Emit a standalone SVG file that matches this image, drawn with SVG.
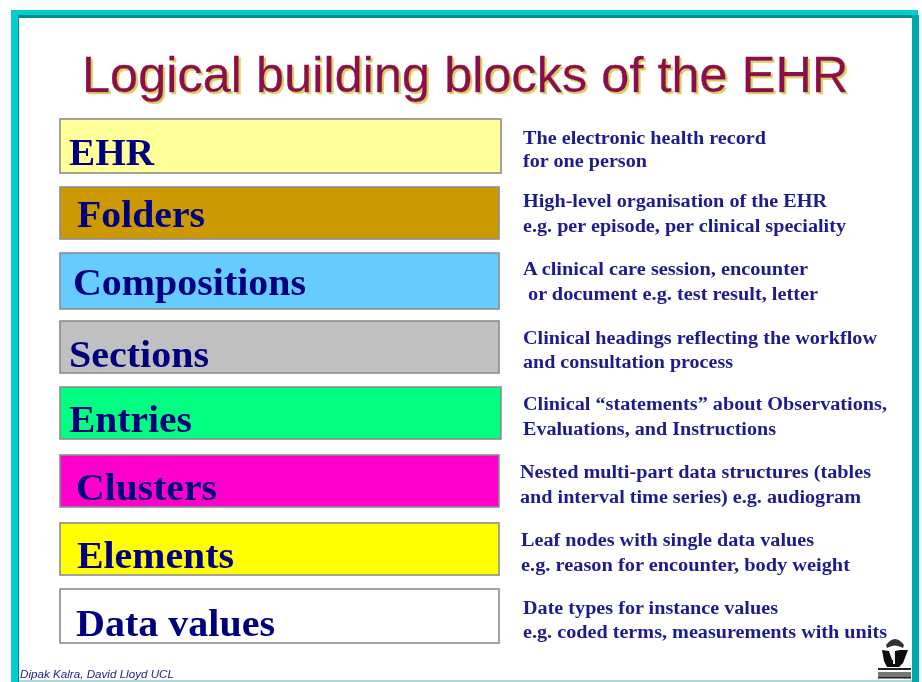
<svg xmlns="http://www.w3.org/2000/svg" width="922" height="682" viewBox="0 0 922 682">
<defs><filter id="soft" x="-5%" y="-20%" width="110%" height="140%"><feGaussianBlur stdDeviation="0.45"/></filter>
<filter id="shade" x="-5%" y="-20%" width="110%" height="140%"><feGaussianBlur in="SourceGraphic" stdDeviation="0.5" result="b"/><feOffset in="b" dx="2" dy="2" result="o"/><feFlood flood-color="#d8d060"/><feComposite in2="o" operator="in" result="s"/><feMerge><feMergeNode in="s"/><feMergeNode in="b"/></feMerge></filter></defs>
<style>
.box{stroke:#8c8c8c;stroke-width:1.600}
.lab{font-family:"Liberation Serif",serif;font-weight:bold;font-size:38px;fill:#00007f;filter:url(#soft)}
.desc{font-family:"Liberation Serif",serif;font-weight:bold;font-size:18.500px;fill:#1c1c8c;filter:url(#soft)}
.title{font-family:"Liberation Sans",sans-serif;font-size:50.500px;fill:#8c0a4a;stroke:#8c0a4a;stroke-width:.3;filter:url(#shade)}
</style>
<rect width="922" height="682" fill="#fff"/>
<g id="frame">
<path d="M11 682V10H918V18H19V682Z" fill="#00cfcf"/>
<path d="M18 682V15H918V18H19V682Z" fill="#008a8a"/>
<rect x="912" y="15" width="7" height="667" fill="#00a8a8"/>
<rect x="19" y="680" width="893" height="2" fill="#a8dcdc"/>
</g>
<g id="title">
<text class="title" x="82" y="92">Logical building blocks of the EHR</text>
</g>
<g id="ehr"><rect class="box" x="60" y="119" width="441" height="54" fill="#ffff99"/><text class="lab" x="69" y="165" textLength="85" lengthAdjust="spacingAndGlyphs">EHR</text><text class="desc" x="523" y="144" textLength="243" lengthAdjust="spacingAndGlyphs">The electronic health record</text><text class="desc" x="523" y="167" textLength="124" lengthAdjust="spacingAndGlyphs">for one person</text></g>
<g id="folders"><rect class="box" x="60" y="187" width="439" height="52" fill="#cc9900"/><text class="lab" x="77" y="227" textLength="128" lengthAdjust="spacingAndGlyphs">Folders</text><text class="desc" x="523" y="207" textLength="304" lengthAdjust="spacingAndGlyphs">High-level organisation of the EHR</text><text class="desc" x="523" y="232" textLength="323" lengthAdjust="spacingAndGlyphs">e.g. per episode, per clinical speciality</text></g>
<g id="compositions"><rect class="box" x="60" y="253" width="439" height="56" fill="#66ccff"/><text class="lab" x="73" y="295" textLength="233" lengthAdjust="spacingAndGlyphs">Compositions</text><text class="desc" x="523" y="275" textLength="285" lengthAdjust="spacingAndGlyphs">A clinical care session, encounter</text><text class="desc" x="528" y="300" textLength="290" lengthAdjust="spacingAndGlyphs">or document e.g. test result, letter</text></g>
<g id="sections"><rect class="box" x="60" y="321" width="439" height="52" fill="#c0c0c0"/><text class="lab" x="69" y="367" textLength="140" lengthAdjust="spacingAndGlyphs">Sections</text><text class="desc" x="523" y="344" textLength="354" lengthAdjust="spacingAndGlyphs">Clinical headings reflecting the workflow</text><text class="desc" x="523" y="368" textLength="210" lengthAdjust="spacingAndGlyphs">and consultation process</text></g>
<g id="entries"><rect class="box" x="60" y="387" width="441" height="52" fill="#00ff80"/><text class="lab" x="69" y="432" textLength="123" lengthAdjust="spacingAndGlyphs">Entries</text><text class="desc" x="523" y="410" textLength="364" lengthAdjust="spacingAndGlyphs">Clinical “statements” about Observations,</text><text class="desc" x="523" y="435" textLength="253" lengthAdjust="spacingAndGlyphs">Evaluations, and Instructions</text></g>
<g id="clusters"><rect class="box" x="60" y="455" width="439" height="52" fill="#ff00cc"/><text class="lab" x="76" y="500" textLength="141" lengthAdjust="spacingAndGlyphs">Clusters</text><text class="desc" x="520" y="478" textLength="351" lengthAdjust="spacingAndGlyphs">Nested multi-part data structures (tables</text><text class="desc" x="520" y="503" textLength="341" lengthAdjust="spacingAndGlyphs">and interval time series) e.g. audiogram</text></g>
<g id="elements"><rect class="box" x="60" y="523" width="439" height="52" fill="#ffff00"/><text class="lab" x="77" y="568" textLength="157" lengthAdjust="spacingAndGlyphs">Elements</text><text class="desc" x="521" y="546" textLength="293" lengthAdjust="spacingAndGlyphs">Leaf nodes with single data values</text><text class="desc" x="521" y="571" textLength="329" lengthAdjust="spacingAndGlyphs">e.g. reason for encounter, body weight</text></g>
<g id="data-values"><rect class="box" x="60" y="589" width="439" height="54" fill="#fff"/><text class="lab" x="76" y="636" textLength="199" lengthAdjust="spacingAndGlyphs">Data values</text><text class="desc" x="523" y="614" textLength="255" lengthAdjust="spacingAndGlyphs">Date types for instance values</text><text class="desc" x="523" y="638" textLength="364" lengthAdjust="spacingAndGlyphs">e.g. coded terms, measurements with units</text></g>
<g id="credit"><text x="20" y="678" font-family="'Liberation Sans',sans-serif" font-style="italic" font-size="10.500" fill="#1c1c8c" textLength="154" lengthAdjust="spacingAndGlyphs" filter="url(#soft)">Dipak Kalra, David Lloyd  UCL</text></g>
<g id="logo" filter="url(#soft)">
<path d="M886 645q9-12 18 0l-1 3q-8-5-16 0Z" fill="#333"/>
<path d="M882 650l7 1 3 9 3 0 0-9 5-1 8 0-5 13-4 4h-12l-3-6Z" fill="#111"/>
<rect x="893" y="652" width="2" height="12" fill="#eee"/>
<rect x="878" y="668" width="33" height="2" fill="#222"/>
<rect x="878" y="672" width="33" height="5" fill="#777"/>
<rect x="878" y="677" width="33" height="1.500" fill="#222"/>
</g>
</svg>
